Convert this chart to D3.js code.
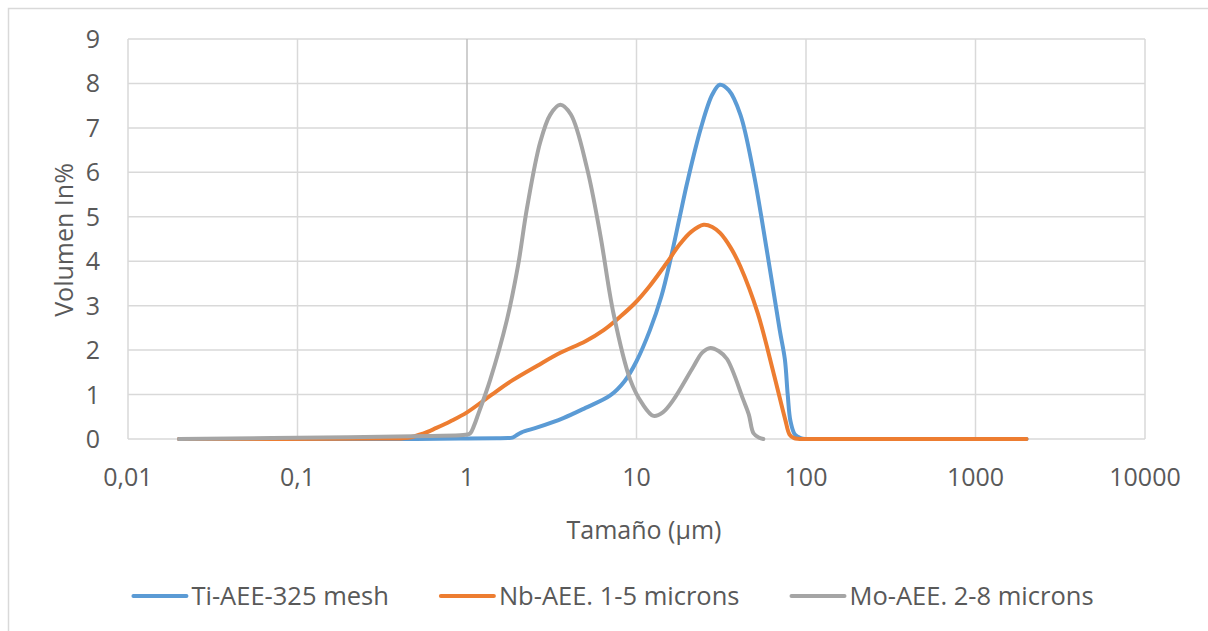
<!DOCTYPE html>
<html>
<head>
<meta charset="utf-8">
<script src="https://cdn.jsdelivr.net/npm/d3@7"></script>
<style>
  html, body { margin: 0; padding: 0; background: #fff; }
  svg { display: block; }
  text { font-family: "Open Sans", "Noto Sans", sans-serif; fill: #595959; }
</style>
</head>
<body>
<svg id="chart" width="1208" height="631"></svg>
<script>
// ---- data (size in µm, volume %) ----
const xTickValues = [0.01, 0.1, 1, 10, 100, 1000, 10000];
const xTickLabels = ["0,01", "0,1", "1", "10", "100", "1000", "10000"];
const yTickValues = [0, 1, 2, 3, 4, 5, 6, 7, 8, 9];

const seriesNames = ["Ti-AEE-325 mesh", "Nb-AEE. 1-5 microns", "Mo-AEE. 2-8 microns"];

const tiSize = [0.02, 0.5, 1.0, 1.5, 1.75, 1.85, 1.95, 2.1, 2.6, 3.7, 5.0, 7.0, 8.5, 10, 12, 14, 16, 18, 20, 24, 28, 31, 35, 41, 49, 59, 70, 75, 78, 81, 86, 93, 100, 110, 150, 400, 2000];
const tiVol  = [0.0, 0.0, 0.01, 0.015, 0.02, 0.03, 0.08, 0.15, 0.26, 0.47, 0.7, 0.98, 1.3, 1.75, 2.45, 3.2, 4.1, 5.0, 5.8, 7.0, 7.75, 7.97, 7.85, 7.3, 6.0, 4.2, 2.45, 1.8, 1.0, 0.4, 0.1, 0.02, 0.0, 0.0, 0.0, 0.0, 0.0];

const nbSize = [0.02, 0.3, 0.45, 0.55, 0.66, 0.8, 1.0, 1.4, 1.87, 2.6, 3.55, 5.0, 6.4, 8.0, 9.8, 12, 15, 18, 21, 24.9, 28, 31.2, 36, 41, 51.9, 64.4, 75.5, 80, 85, 100, 110, 150, 400, 2000];
const nbVol  = [0.0, 0.01, 0.03, 0.12, 0.25, 0.4, 0.6, 1.0, 1.33, 1.65, 1.94, 2.2, 2.45, 2.75, 3.06, 3.45, 3.95, 4.38, 4.66, 4.82, 4.77, 4.63, 4.3, 3.88, 2.83, 1.48, 0.43, 0.1, 0.02, 0.0, 0.0, 0.0, 0.0, 0.0];

const moSize = [0.02, 0.2, 0.6, 0.95, 1.04, 1.1, 1.15, 1.37, 1.72, 2.0, 2.26, 2.7, 3.1, 3.55, 4.1, 5.1, 6.11, 7.3, 9.19, 10.8, 12.6, 14.3, 16.5, 21.6, 24.5, 27.3, 30.5, 34.2, 42.7, 46, 49, 53, 56];
const moVol  = [0.0, 0.04, 0.07, 0.09, 0.12, 0.3, 0.5, 1.33, 2.68, 3.9, 5.2, 6.67, 7.3, 7.52, 7.3, 6.1, 4.6, 2.84, 1.33, 0.8, 0.52, 0.6, 0.88, 1.62, 1.95, 2.05, 1.98, 1.8, 0.88, 0.55, 0.13, 0.03, 0.0];

const colors = ["#5B9BD5", "#ED7D31", "#A5A5A5"];

// ---- build ----
const series = [
  { name: seriesNames[0], color: colors[0], pts: tiSize.map((s, i) => [s, tiVol[i]]) },
  { name: seriesNames[1], color: colors[1], pts: nbSize.map((s, i) => [s, nbVol[i]]) },
  { name: seriesNames[2], color: colors[2], pts: moSize.map((s, i) => [s, moVol[i]]) }
];

const svg = d3.select("#chart");

// outer chart border
svg.append("rect")
  .attr("x", 8.5).attr("y", 8.5)
  .attr("width", 1210).attr("height", 640)
  .attr("fill", "#fff").attr("stroke", "#d9d9d9").attr("stroke-width", 1.5);

const x = d3.scaleLog().domain([0.01, 10000]).range([128, 1145]);
const y = d3.scaleLinear().domain([0, 9]).range([439, 39]);

const grid = svg.append("g");
grid.selectAll("line.h").data(yTickValues).enter().append("line")
  .attr("x1", x(0.01)).attr("x2", x(10000))
  .attr("y1", d => y(d)).attr("y2", d => y(d))
  .attr("stroke", "#d9d9d9").attr("stroke-width", 1.5);
grid.selectAll("line.v").data(xTickValues).enter().append("line")
  .attr("x1", d => x(d)).attr("x2", d => x(d))
  .attr("y1", y(0)).attr("y2", y(9))
  .attr("stroke", d => d === 1 ? "#bfbfbf" : "#d9d9d9").attr("stroke-width", 1.5);

// y tick labels
svg.append("g").selectAll("text").data(yTickValues).enter().append("text")
  .attr("x", 100).attr("y", d => y(d) + 9)
  .attr("text-anchor", "end").attr("font-size", 25)
  .text(d => d);

// x tick labels
svg.append("g").selectAll("text").data(xTickValues).enter().append("text")
  .attr("x", d => x(d)).attr("y", 486)
  .attr("text-anchor", "middle").attr("font-size", 25)
  .text((d, i) => xTickLabels[i]);

// axis titles
svg.append("text").attr("x", 644).attr("y", 539)
  .attr("text-anchor", "middle").attr("font-size", 25).text("Tamaño (µm)");
svg.append("text").attr("transform", "translate(73,240) rotate(-90)")
  .attr("text-anchor", "middle").attr("font-size", 25).text("Volumen In%");

// lines
const line = d3.line()
  .x(d => x(d[0])).y(d => y(d[1]))
  .curve(d3.curveCatmullRom.alpha(0.5));

svg.append("g").selectAll("path").data(series).enter().append("path")
  .attr("d", d => line(d.pts))
  .attr("fill", "none")
  .attr("stroke", d => d.color)
  .attr("stroke-width", 4)
  .attr("stroke-linecap", "round")
  .attr("stroke-linejoin", "round");

// legend
const legend = svg.append("g");
const items = legend.selectAll("g").data(series).enter().append("g");
items.append("line").attr("x1", 0).attr("x2", 53).attr("y1", 596).attr("y2", 596)
  .attr("stroke", d => d.color).attr("stroke-width", 4).attr("stroke-linecap", "round");
items.append("text").attr("x", 58).attr("y", 605).attr("font-size", 25.5).text(d => d.name);
const widths = [];
items.each(function() { widths.push(this.querySelector("text").getComputedTextLength() + 58); });
const gap = 52;
const total = d3.sum(widths) + gap * (widths.length - 1);
let cx = 613.5 - total / 2;
items.each(function(d, i) {
  d3.select(this).attr("transform", `translate(${cx},0)`);
  cx += widths[i] + gap;
});
</script>
</body>
</html>
